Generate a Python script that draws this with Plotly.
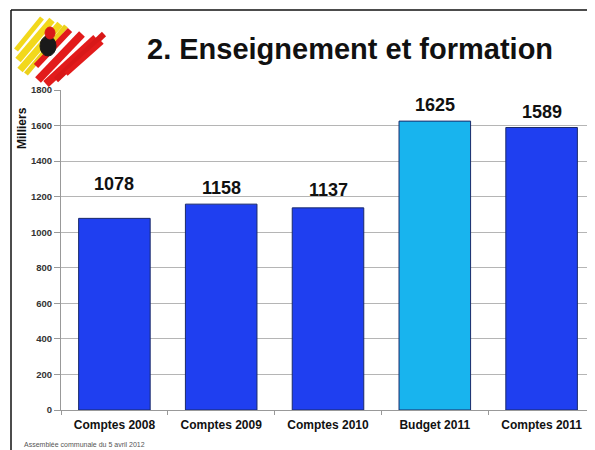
import plotly.graph_objects as go

categories = ["Comptes 2008", "Comptes 2009", "Comptes 2010", "Budget 2011", "Comptes 2011"]
values = [1078, 1158, 1137, 1625, 1589]
bar_colors = ["#1f3ff0", "#1f3ff0", "#1f3ff0", "#18b4ee", "#1f3ff0"]
label_shift = [34, 16, 18, 16, 16]
y_ticks = [0, 200, 400, 600, 800, 1000, 1200, 1400, 1600, 1800]

OFF = 8  # page body margin
W, H = 595 - OFF, 450 - OFF
# plot area in page pixels: x 61..595, y 90..410
ML, MR, MT, MB = 61 - OFF, 0, 90 - OFF, 450 - 410
PW, PH = W - ML - MR, H - MT - MB

def px(x):
    return (x - OFF - ML) / PW

def py(y):
    return (H - MB - (y - OFF)) / PH

FONT = "Liberation Sans, Arial, sans-serif"

fig = go.Figure()
fig.add_trace(go.Bar(
    x=categories, y=values,
    marker=dict(color=bar_colors, line=dict(color="#1a2a6a", width=1)),
    width=0.67, hoverinfo="x+y",
))

annotations = []
for c, v, s in zip(categories, values, label_shift):
    annotations.append(dict(x=c, y=v, xref="x", yref="y", text=f"<b>{v}</b>",
                            showarrow=False, yshift=s, yanchor="middle",
                            font=dict(family=FONT, size=18, color="#111")))

annotations.append(dict(x=px(350), y=py(49), xref="paper", yref="paper",
                        text="<b>2. Enseignement et formation</b>", showarrow=False,
                        xanchor="center", yanchor="middle",
                        font=dict(family=FONT, size=29, color="#111")))
annotations.append(dict(x=px(22), y=py(128), xref="paper", yref="paper",
                        text="<b>Milliers</b>", showarrow=False, textangle=-90,
                        xanchor="center", yanchor="middle",
                        font=dict(family=FONT, size=12, color="#111")))
annotations.append(dict(x=px(22), y=py(444), xref="paper", yref="paper",
                        text="Assemblée communale du 5 avril 2012", showarrow=False,
                        xanchor="left", yanchor="middle",
                        font=dict(family=FONT, size=7, color="#555")))

shapes = [
    dict(type="line", xref="paper", yref="paper", x0=px(11), y0=py(10), x1=px(600), y1=py(10),
         line=dict(color="#111", width=1.5)),
    dict(type="line", xref="paper", yref="paper", x0=px(11), y0=py(10), x1=px(11), y1=py(455),
         line=dict(color="#111", width=1.5)),
]

# stylised logo strokes
logo_strokes = [
    ((18, 60), (52, 20), "#f2d81c", 7),
    ((20, 70), (60, 24), "#f2d81c", 7),
    ((16, 50), (42, 18), "#f2d81c", 5),
    ((26, 74), (66, 26), "#ecd01a", 5),
    ((38, 80), (82, 34), "#e21b1b", 8),
    ((46, 84), (96, 38), "#e21b1b", 8),
    ((56, 80), (104, 34), "#d81818", 6),
    ((66, 74), (102, 42), "#e21b1b", 5),
    ((36, 66), (70, 30), "#e21b1b", 6),
]
for (x0, y0), (x1, y1), col, w in logo_strokes:
    shapes.append(dict(type="line", xref="paper", yref="paper",
                       x0=px(x0), y0=py(y0), x1=px(x1), y1=py(y1),
                       line=dict(color=col, width=w)))
shapes.append(dict(type="circle", xref="paper", yref="paper",
                   x0=px(40), y0=py(36), x1=px(56), y1=py(56),
                   fillcolor="#1a1a1a", line=dict(color="#1a1a1a", width=1)))
shapes.append(dict(type="circle", xref="paper", yref="paper",
                   x0=px(45), y0=py(27), x1=px(55), y1=py(39),
                   fillcolor="#d81818", line=dict(color="#d81818", width=1)))

fig.update_layout(
    width=W, height=H,
    margin=dict(l=ML, r=MR, t=MT, b=MB),
    paper_bgcolor="white", plot_bgcolor="white",
    showlegend=False,
    annotations=annotations,
    shapes=shapes,
    font=dict(family=FONT),
)
fig.update_xaxes(
    showline=True, linecolor="#999", linewidth=1,
    ticks="outside", tickson="boundaries", ticklen=4, tickcolor="#999",
    ticklabelstandoff=4,
    tickfont=dict(family=FONT, size=12, color="#111", weight="bold"),
    showgrid=False,
)
fig.update_yaxes(
    range=[0, 1800], tickvals=y_ticks,
    showline=True, linecolor="#999", linewidth=1,
    ticks="outside", ticklen=6, tickcolor="#999",
    tickfont=dict(family=FONT, size=9.5, color="#333", weight="bold"),
    showgrid=True, gridcolor="#b5b5b5", gridwidth=1,
    zeroline=False,
)

fig.write_html("out.html")
